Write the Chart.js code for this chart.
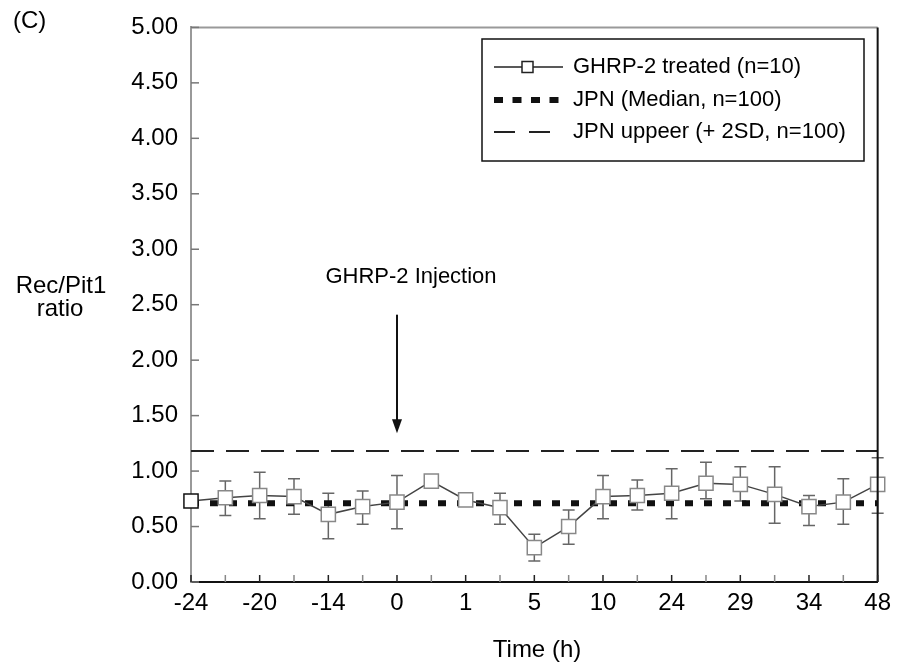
<!DOCTYPE html>
<html>
<head>
<meta charset="utf-8">
<script src="https://cdn.jsdelivr.net/npm/chart.js@4/dist/chart.umd.min.js"></script>
<style>
  html, body { margin: 0; padding: 0; background: #fff; }
  #wrap { width: 898px; height: 667px; }
</style>
</head>
<body>
<div id="wrap"><canvas id="chart-rec-pit1"></canvas></div>
<script>
// time points (h); only every other one carries a label
var timeLabels = ["-24", "", "-20", "", "-14", "", "0", "", "1", "", "5", "", "10", "", "24", "", "29", "", "34", "", "48"];
var ghrpMean = [0.73, 0.76, 0.78, 0.77, 0.61, 0.68, 0.72, 0.91, 0.74, 0.67, 0.31, 0.50, 0.77, 0.78, 0.80, 0.89, 0.88, 0.79, 0.68, 0.72, 0.88];
var ghrpHigh = [null, 0.91, 0.99, 0.93, 0.80, 0.82, 0.96, null, null, 0.80, 0.43, 0.65, 0.96, 0.92, 1.02, 1.08, 1.04, 1.04, 0.78, 0.93, 1.12];
var ghrpLow  = [null, 0.60, 0.57, 0.61, 0.39, 0.52, 0.48, null, null, 0.52, 0.19, 0.34, 0.57, 0.65, 0.57, 0.75, 0.73, 0.53, 0.51, 0.52, 0.62];
var jpnMedian = [0.71, 0.71, 0.71, 0.71, 0.71, 0.71, 0.71, 0.71, 0.71, 0.71, 0.71, 0.71, 0.71, 0.71, 0.71, 0.71, 0.71, 0.71, 0.71, 0.71, 0.71];
var jpnUpper  = [1.18, 1.18, 1.18, 1.18, 1.18, 1.18, 1.18, 1.18, 1.18, 1.18, 1.18, 1.18, 1.18, 1.18, 1.18, 1.18, 1.18, 1.18, 1.18, 1.18, 1.18];
var yTicks = [0, 0.5, 1, 1.5, 2, 2.5, 3, 3.5, 4, 4.5, 5];
var injectionIndex = 6;
var arrowFrom = 2.41, arrowTo = 1.34, injectionTextAt = 2.75;

var FONT = "Liberation Sans, Arial, Helvetica, sans-serif";

// error bars drawn under the lines
var errorBars = {
  id: "errorBars",
  beforeDatasetsDraw: function (chart) {
    var c = chart.ctx, x = chart.scales.x, y = chart.scales.y;
    c.save();
    c.strokeStyle = "#666";
    c.lineWidth = 1.5;
    for (var i = 0; i < ghrpMean.length; i++) {
      if (ghrpHigh[i] == null) continue;
      var px = x.getPixelForValue(i);
      var top = y.getPixelForValue(ghrpHigh[i]);
      var bot = y.getPixelForValue(ghrpLow[i]);
      c.beginPath();
      c.moveTo(px, top); c.lineTo(px, bot);
      c.moveTo(px - 6, top); c.lineTo(px + 6, top);
      c.moveTo(px - 6, bot); c.lineTo(px + 6, bot);
      c.stroke();
    }
    c.restore();
  }
};

// frame, inward ticks, legend box, arrow and free text
var decorations = {
  id: "decorations",
  afterDraw: function (chart) {
    var c = chart.ctx, a = chart.chartArea, x = chart.scales.x, y = chart.scales.y;
    c.save();

    // top and right edges of the frame
    c.lineWidth = 2;
    c.strokeStyle = "#999";
    c.beginPath(); c.moveTo(a.left, a.top); c.lineTo(a.right, a.top); c.stroke();
    c.strokeStyle = "#111";
    c.beginPath(); c.moveTo(a.right, a.top); c.lineTo(a.right, a.bottom); c.stroke();

    // ticks pointing into the plot
    c.lineWidth = 1.5;
    c.strokeStyle = "#777";
    yTicks.forEach(function (v) {
      var py = y.getPixelForValue(v);
      c.beginPath(); c.moveTo(a.left, py); c.lineTo(a.left + 8, py); c.stroke();
    });
    for (var i = 0; i < timeLabels.length; i++) {
      var px = x.getPixelForValue(i);
      c.strokeStyle = timeLabels[i] ? "#222" : "#888";
      c.beginPath(); c.moveTo(px, a.bottom); c.lineTo(px, a.bottom - 7); c.stroke();
    }

    // legend
    var ds = chart.data.datasets;
    c.lineWidth = 1.5;
    c.strokeStyle = "#111";
    c.strokeRect(482, 39, 382, 122);
    var rows = [67, 100, 132];
    c.font = "22px " + FONT;
    c.textBaseline = "middle";
    c.textAlign = "left";
    // row 1: line with square
    c.strokeStyle = "#222";
    c.beginPath(); c.moveTo(494, rows[0]); c.lineTo(563, rows[0]); c.stroke();
    c.fillStyle = "#fff";
    c.fillRect(522, rows[0] - 5.5, 11, 11);
    c.strokeRect(522, rows[0] - 5.5, 11, 11);
    // row 2: heavy dots
    c.fillStyle = "#111";
    for (var k = 0; k < 4; k++) c.fillRect(494 + k * 18.5, rows[1] - 3, 9, 6);
    // row 3: dashes
    c.lineWidth = 2;
    c.setLineDash([21, 14]);
    c.beginPath(); c.moveTo(494, rows[2]); c.lineTo(552, rows[2]); c.stroke();
    c.setLineDash([]);
    c.fillStyle = "#000";
    for (var r = 0; r < 3; r++) c.fillText(ds[r].label, 573, rows[r]);

    // injection arrow
    var ax = x.getPixelForValue(injectionIndex);
    var y0 = y.getPixelForValue(arrowFrom), y1 = y.getPixelForValue(arrowTo);
    c.lineWidth = 2;
    c.strokeStyle = "#111";
    c.fillStyle = "#111";
    c.beginPath(); c.moveTo(ax, y0); c.lineTo(ax, y1 - 12); c.stroke();
    c.beginPath();
    c.moveTo(ax - 5, y1 - 14); c.lineTo(ax + 5, y1 - 14); c.lineTo(ax, y1);
    c.closePath(); c.fill();
    c.fillStyle = "#000";
    c.textAlign = "center";
    c.fillText("GHRP-2 Injection", ax + 14, y.getPixelForValue(injectionTextAt));

    // axis titles and panel tag
    c.font = "24px " + FONT;
    c.fillText("Rec/Pit1", 61, 286);
    c.fillText("ratio", 60, 309);
    c.fillText("Time (h)", 537, 650);
    c.textAlign = "left";
    c.fillText("(C)", 13, 21);
    c.restore();
  }
};

var ctx = document.getElementById("chart-rec-pit1").getContext("2d");

new Chart(ctx, {
  type: "line",
  data: {
    labels: timeLabels,
    datasets: [
      {
        label: "GHRP-2 treated (n=10)",
        data: ghrpMean,
        borderColor: "#444",
        borderWidth: 1.5,
        pointStyle: "rect",
        pointRadius: 10,
        pointBorderWidth: 1.5,
        pointBackgroundColor: "#fff",
        pointBorderColor: ["#111", "#888", "#888", "#888", "#888", "#888", "#888", "#888", "#888", "#888", "#888",
                           "#888", "#888", "#888", "#888", "#888", "#888", "#888", "#888", "#888", "#888"],
        tension: 0,
      },
      {
        label: "JPN (Median, n=100)",
        data: jpnMedian,
        borderColor: "#111",
        borderWidth: 6,
        borderDash: [8, 11],
        borderCapStyle: "butt",
        pointRadius: 0,
      },
      {
        label: "JPN uppeer (+ 2SD, n=100)",
        data: jpnUpper,
        borderColor: "#222",
        borderWidth: 2,
        borderDash: [23, 12],
        pointRadius: 0,
      },
    ],
  },
  options: {
    responsive: true,
    maintainAspectRatio: false,
    animation: false,
    events: [],
    layout: {
      padding: { top: 22, right: 15, left: 0, bottom: 0 },
    },
    plugins: {
      legend: { display: false },
      tooltip: { enabled: false },
    },
    scales: {
      x: {
        offset: false,
        afterFit: function (scale) { scale.height = 85; },
        grid: { display: false, drawTicks: false },
        border: { display: true, color: "#111", width: 2 },
        ticks: {
          autoSkip: false,
          maxRotation: 0,
          padding: 7,
          color: "#000",
          font: { size: 24, family: FONT },
        },
      },
      y: {
        min: 0,
        max: 5,
        afterFit: function (scale) { scale.width = 191; },
        afterBuildTicks: function (scale) {
          scale.ticks = yTicks.map(function (v) { return { value: v }; });
        },
        grid: { display: false, drawTicks: false },
        border: { display: true, color: "#999", width: 2 },
        ticks: {
          padding: 13,
          color: "#000",
          font: { size: 24, family: FONT },
          callback: function (v) { return Number(v).toFixed(2); },
        },
      },
    },
  },
  plugins: [errorBars, decorations],
});
</script>
</body>
</html>
